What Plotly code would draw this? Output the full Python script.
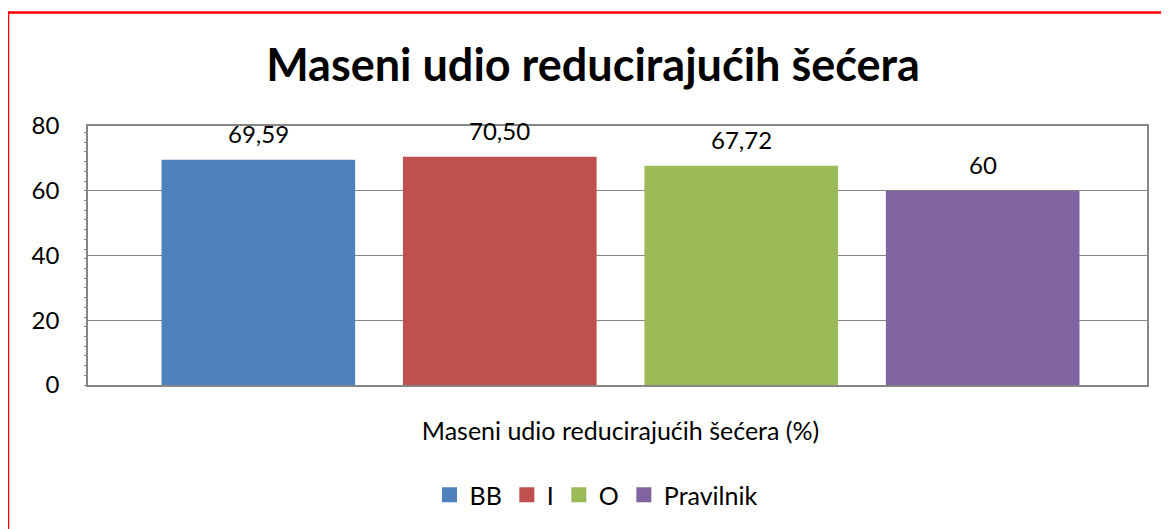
import plotly.graph_objects as go

category = ["Maseni udio reducirajućih šećera (%)"]
series_names = ["BB", "I", "O", "Pravilnik"]
series_values = [69.59, 70.50, 67.72, 60]
series_labels = ["69,59", "70,50", "67,72", "60"]
colors = ["#4F81BD", "#C0504D", "#9BBB59", "#8064A2"]
y_ticks = [0, 20, 40, 60, 80]

FONT = "Lato, 'Open Sans', sans-serif"
OFF = 8  # page body margin offset
W, H = 1169 - OFF, 529 - OFF
L, R, T, B = 88 - OFF, 22, 126 - OFF, 529 - 385
pw, ph = W - L - R, H - T - B
BARGAP, GROUPGAP = 0.088, 0.198


def px_x(p):
    return (p - OFF - L) / pw


def px_y(p):
    return (T + ph - (p - OFF)) / ph


fig = go.Figure()
n = len(series_names)
slot = (1 - BARGAP) / n
annotations = []
for i, (name, val, lab, col) in enumerate(zip(series_names, series_values, series_labels, colors)):
    fig.add_trace(go.Bar(
        x=category, y=[val], name=name, marker=dict(color=col, line=dict(width=0)),
        showlegend=False,
    ))
    # legend entry with larger square swatch
    fig.add_trace(go.Scatter(
        x=[None], y=[None], mode="markers", name=name,
        marker=dict(symbol="square", size=15, color=col),
    ))
    annotations.append(dict(
        x=(i - (n - 1) / 2) * slot, y=val, xref="x", yref="y", text=lab, showarrow=False,
        yanchor="middle", yshift=26, font=dict(size=24, color="#000000", family=FONT),
    ))

shift = 3 / pw
fig.update_layout(
    width=W, height=H,
    margin=dict(l=L, r=R, t=T, b=B, autoexpand=False),
    paper_bgcolor="white", plot_bgcolor="white",
    font=dict(family=FONT, size=24, color="#000000"),
    title=dict(text="<b>Maseni udio reducirajućih šećera</b>", x=(593 - OFF) / W, xanchor="center",
               y=1 - (65 - OFF) / H, yanchor="middle",
               font=dict(size=45, family=FONT, color="#000000")),
    barmode="group", bargap=BARGAP, bargroupgap=GROUPGAP,
    showlegend=True,
    legend=dict(orientation="h", x=px_x(596), xanchor="center", y=px_y(495), yanchor="middle",
                font=dict(size=25, family=FONT), itemwidth=30, traceorder="normal"),
    xaxis=dict(range=[-0.5 - shift, 0.5 - shift], showgrid=False, showline=True,
               linecolor="#868686", linewidth=1.5, mirror=True,
               ticks="", tickfont=dict(size=25), ticklabelstandoff=23),
    yaxis=dict(range=[0, 80], tickvals=y_ticks, showgrid=True, gridcolor="#868686", gridwidth=1,
               showline=True, linecolor="#868686", linewidth=1.5, mirror=True, zeroline=False,
               ticks="", tickfont=dict(size=24), ticklabelstandoff=22,
               minor=dict(ticks="outside", ticklen=2, dtick=3, tickcolor="#868686", showgrid=False)),
    annotations=annotations,
    shapes=[dict(type="rect", xref="paper", yref="paper",
                 x0=px_x(8), x1=px_x(1168), y0=px_y(620), y1=px_y(12.5),
                 line=dict(color="#FF0000", width=2.5), fillcolor="rgba(0,0,0,0)", layer="above")],
)

fig.write_html("out.html")
